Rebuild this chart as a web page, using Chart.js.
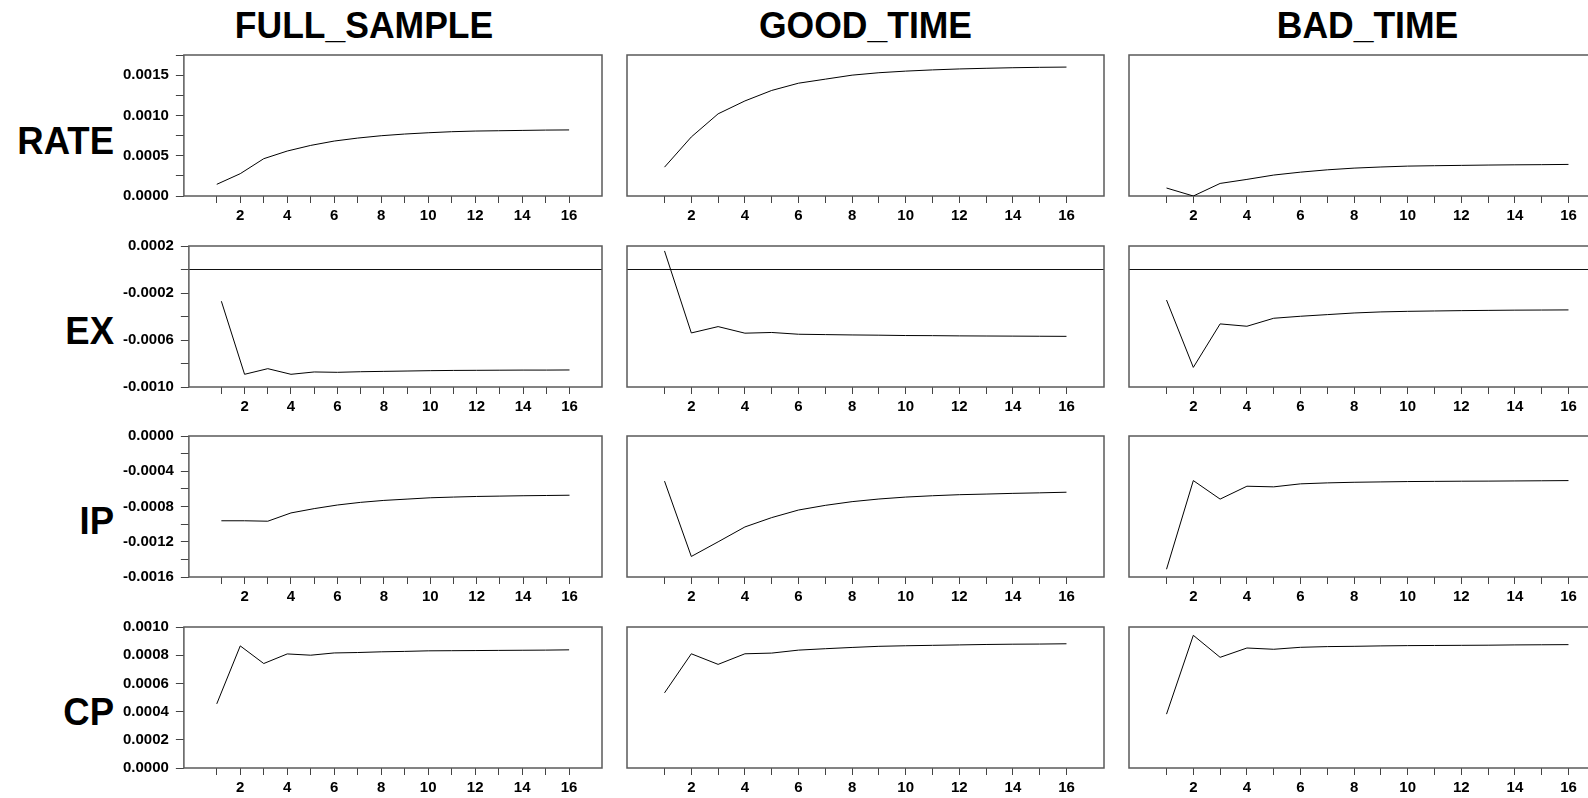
<!DOCTYPE html>
<html>
<head>
<meta charset="utf-8">
<title>Impulse responses</title>
<script src="https://cdn.jsdelivr.net/npm/chart.js@4.4.1/dist/chart.umd.min.js"></script>
<style>
  html, body { margin: 0; padding: 0; background: #fff; }
  #wrap { position: relative; width: 1588px; height: 798px; overflow: hidden; background: #fff; }
  .cell { position: absolute; }
  .colTitle {
    position: absolute; top: 4px; white-space: nowrap; line-height: 1;
    font: bold 35.5px "Liberation Sans", Arial, sans-serif; color: #000;
    transform: translateX(-50%) scaleY(1.06); transform-origin: 50% 0;
  }
  .rowLabel {
    position: absolute; left: 0; width: 114px; text-align: right; line-height: 1;
    font: bold 36.5px "Liberation Sans", Arial, sans-serif; color: #000;
    transform: scaleY(1.08); transform-origin: 0 17.8px;
  }
</style>
</head>
<body>
<div id="wrap"></div>
<script>
// Horizon steps (periods after the shock)
const STEPS = [1, 2, 3, 4, 5, 6, 7, 8, 9, 10, 11, 12, 13, 14, 15, 16];
const X_LABELS = [2, 4, 6, 8, 10, 12, 14, 16];
const X_MIN = -0.4;
const X_MAX = 17.4;

const COLUMNS = ['FULL_SAMPLE', 'GOOD_TIME', 'BAD_TIME'];
const ROWS = ['RATE', 'EX', 'IP', 'CP'];

// Responses of RATE
const RATE_FULL = [0.000145, 0.000277, 0.000463, 0.000558, 0.000628, 0.000682, 0.000719, 0.000748,
                   0.000769, 0.000785, 0.000798, 0.000806, 0.000810, 0.000814, 0.000818, 0.000820];
const RATE_GOOD = [0.000358, 0.000733, 0.001020, 0.001180, 0.001310, 0.001400, 0.001450, 0.001500,
                   0.001530, 0.001550, 0.001565, 0.001577, 0.001585, 0.001592, 0.001597, 0.001600];
const RATE_BAD  = [0.000099, 0.000000, 0.000156, 0.000206, 0.000260, 0.000296, 0.000325, 0.000346,
                   0.000360, 0.000371, 0.000376, 0.000380, 0.000384, 0.000387, 0.000389, 0.000392];

// Responses of EX
const EX_FULL = [-0.000270, -0.000892, -0.000844, -0.000892, -0.000872, -0.000875, -0.000870, -0.000867,
                 -0.000864, -0.000861, -0.000859, -0.000858, -0.000857, -0.000856, -0.000856, -0.000855];
const EX_GOOD = [0.000158, -0.000540, -0.000486, -0.000542, -0.000536, -0.000551, -0.000554, -0.000557,
                 -0.000559, -0.000562, -0.000563, -0.000565, -0.000566, -0.000567, -0.000568, -0.000569];
const EX_BAD  = [-0.000260, -0.000833, -0.000463, -0.000483, -0.000415, -0.000398, -0.000384, -0.000370,
                 -0.000361, -0.000356, -0.000353, -0.000350, -0.000348, -0.000346, -0.000345, -0.000344];

// Responses of IP
const IP_FULL = [-0.000962, -0.000962, -0.000967, -0.000873, -0.000824, -0.000783, -0.000753, -0.000731,
                 -0.000716, -0.000701, -0.000693, -0.000686, -0.000682, -0.000678, -0.000675, -0.000672];
const IP_GOOD = [-0.000512, -0.001367, -0.001201, -0.001032, -0.000926, -0.000840, -0.000787, -0.000745,
                 -0.000715, -0.000693, -0.000678, -0.000666, -0.000659, -0.000651, -0.000645, -0.000638];
const IP_BAD  = [-0.001512, -0.000506, -0.000716, -0.000570, -0.000577, -0.000543, -0.000532, -0.000525,
                 -0.000521, -0.000517, -0.000515, -0.000513, -0.000512, -0.000510, -0.000508, -0.000506];

// Responses of CP
const CP_FULL = [0.000455, 0.000866, 0.000741, 0.000809, 0.000800, 0.000816, 0.000819, 0.000824,
                 0.000827, 0.000831, 0.000832, 0.000833, 0.000834, 0.000835, 0.000836, 0.000838];
const CP_GOOD = [0.000533, 0.000810, 0.000735, 0.000810, 0.000815, 0.000836, 0.000846, 0.000855,
                 0.000863, 0.000867, 0.000870, 0.000873, 0.000876, 0.000878, 0.000879, 0.000881];
const CP_BAD  = [0.000382, 0.000941, 0.000785, 0.000851, 0.000842, 0.000856, 0.000861, 0.000863,
                 0.000866, 0.000868, 0.000869, 0.000870, 0.000871, 0.000873, 0.000874, 0.000875];

// Vertical axes: every tick value, and the ones that carry a label
const RATE_TICKS  = [0, 0.00025, 0.0005, 0.00075, 0.001, 0.00125, 0.0015, 0.00175];
const RATE_LABELS = [0, 0.0005, 0.001, 0.0015];
const EX_TICKS    = [-0.001, -0.0008, -0.0006, -0.0004, -0.0002, 0, 0.0002];
const EX_LABELS   = [-0.001, -0.0006, -0.0002, 0.0002];
const IP_TICKS    = [-0.0016, -0.0014, -0.0012, -0.001, -0.0008, -0.0006, -0.0004, -0.0002, 0];
const IP_LABELS   = [-0.0016, -0.0012, -0.0008, -0.0004, 0];
const CP_TICKS    = [0, 0.0002, 0.0004, 0.0006, 0.0008, 0.001];
const CP_LABELS   = [0, 0.0002, 0.0004, 0.0006, 0.0008, 0.001];

const ROW_DEFS = [
  { series: [RATE_FULL, RATE_GOOD, RATE_BAD], ticks: RATE_TICKS, labels: RATE_LABELS, zeroLine: false },
  { series: [EX_FULL, EX_GOOD, EX_BAD],       ticks: EX_TICKS,   labels: EX_LABELS,   zeroLine: true },
  { series: [IP_FULL, IP_GOOD, IP_BAD],       ticks: IP_TICKS,   labels: IP_LABELS,   zeroLine: false },
  { series: [CP_FULL, CP_GOOD, CP_BAD],       ticks: CP_TICKS,   labels: CP_LABELS,   zeroLine: false }
];

// Page geometry
const COL_LEFT = [112, 623, 1125];
const COL_WIDTH = [494, 485, 485];
const COL_TITLE_X = [364, 865.5, 1367.5];
const ROW_TOP = [43, 233.5, 424, 614.5];
const ROW_HEIGHT = 188;
const ROW_LABEL_MID = [137.5, 327.5, 518, 708.5];

const FONT_FAMILY = '"Liberation Sans", Arial, sans-serif';
const TICK_FONT = { family: FONT_FAMILY, size: 15, weight: 'bold' };
const FRAME_COLOR = '#5a5a5a';
const TICK_COLOR = '#444';

// Box around each plot area
const framePlugin = {
  id: 'frame',
  beforeDatasetsDraw(chart) {
    const { ctx, chartArea: a } = chart;
    ctx.save();
    ctx.strokeStyle = FRAME_COLOR;
    ctx.lineWidth = 1.5;
    ctx.strokeRect(a.left, a.top, a.right - a.left, a.bottom - a.top);
    ctx.restore();
  }
};

const near = (a, b) => Math.abs(a - b) < 1e-10;

function makeChart(canvas, r, c) {
  const row = ROW_DEFS[r];
  const showY = c === 0;
  const values = row.series[c];
  return new Chart(canvas, {
    type: 'line',
    data: {
      datasets: [{
        data: STEPS.map((x, i) => ({ x: x, y: values[i] })),
        borderColor: '#000',
        borderWidth: 1,
        pointRadius: 0,
        tension: 0,
        fill: false
      }]
    },
    options: {
      responsive: true,
      maintainAspectRatio: false,
      animation: false,
      devicePixelRatio: 1,
      events: [],
      layout: { padding: { left: 4, right: 4, top: 12, bottom: 2 } },
      plugins: { legend: { display: false }, tooltip: { enabled: false }, title: { display: false } },
      scales: {
        x: {
          type: 'linear',
          min: X_MIN,
          max: X_MAX,
          afterBuildTicks: s => { s.ticks = STEPS.map(v => ({ value: v })); },
          ticks: {
            autoSkip: false, maxRotation: 0, minRotation: 0, padding: 4,
            color: '#000', font: TICK_FONT,
            callback: v => (X_LABELS.indexOf(v) >= 0 ? String(v) : '')
          },
          grid: { drawOnChartArea: false, drawTicks: true, tickLength: 7, tickColor: TICK_COLOR, tickWidth: 1 },
          border: { display: false }
        },
        y: {
          type: 'linear',
          min: row.ticks[0],
          max: row.ticks[row.ticks.length - 1],
          afterBuildTicks: s => { s.ticks = row.ticks.map(v => ({ value: v })); },
          // end labels may overhang the plot box; keep every panel in a row the same height
          afterFit: s => { s.paddingTop = 0; s.paddingBottom = 0; },
          ticks: {
            display: showY, autoSkip: false, padding: 7,
            color: '#000', font: TICK_FONT,
            callback: v => (row.labels.some(l => near(l, v)) ? (near(v, 0) ? 0 : v).toFixed(4) : '')
          },
          grid: {
            drawOnChartArea: true,
            drawTicks: showY,
            tickLength: 8,
            tickColor: TICK_COLOR,
            tickWidth: 1,
            lineWidth: 1,
            color: ctx => (row.zeroLine && ctx.tick && near(ctx.tick.value, 0)) ? '#111' : 'rgba(0,0,0,0)'
          },
          border: { display: false }
        }
      }
    },
    plugins: [framePlugin]
  });
}

const wrap = document.getElementById('wrap');

COLUMNS.forEach((name, c) => {
  const t = document.createElement('div');
  t.className = 'colTitle';
  t.style.left = COL_TITLE_X[c] + 'px';
  t.textContent = name;
  wrap.appendChild(t);
});

ROWS.forEach((name, r) => {
  const l = document.createElement('div');
  l.className = 'rowLabel';
  l.style.top = (ROW_LABEL_MID[r] - 17.8) + 'px';
  l.textContent = name;
  wrap.appendChild(l);
});

ROWS.forEach((_, r) => {
  COLUMNS.forEach((__, c) => {
    const cell = document.createElement('div');
    cell.className = 'cell';
    cell.style.left = COL_LEFT[c] + 'px';
    cell.style.top = ROW_TOP[r] + 'px';
    cell.style.width = COL_WIDTH[c] + 'px';
    cell.style.height = ROW_HEIGHT + 'px';
    const cv = document.createElement('canvas');
    cell.appendChild(cv);
    wrap.appendChild(cell);
    makeChart(cv, r, c);
  });
});
</script>
</body>
</html>
